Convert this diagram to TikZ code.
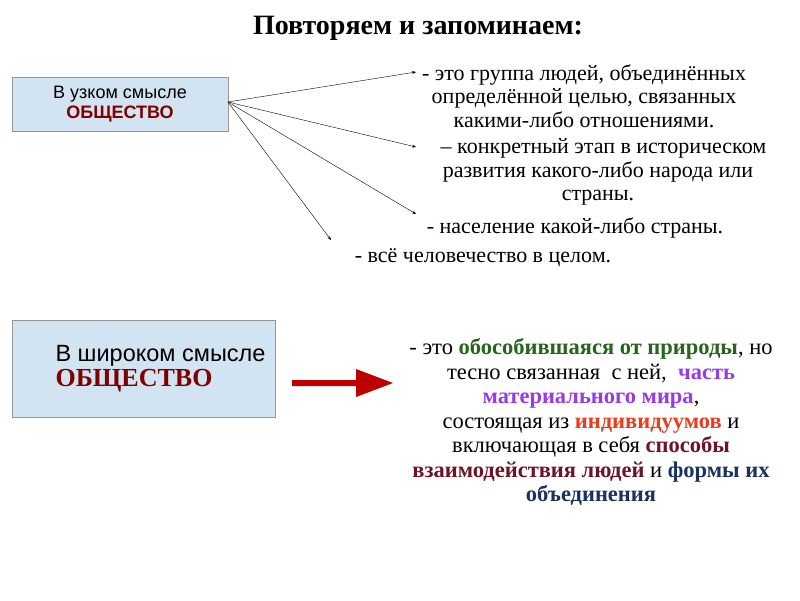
\documentclass[tikz,border=0pt]{standalone}
\usepackage{fontspec}
\setmainfont{Liberation Serif}
\setsansfont{Liberation Sans}
\usetikzlibrary{arrows.meta}
\definecolor{boxblue}{RGB}{210,227,242}
\definecolor{boxline}{RGB}{150,150,150}
\definecolor{darkred}{RGB}{128,0,0}
\definecolor{tgreen}{RGB}{40,100,30}
\definecolor{tviolet}{RGB}{150,60,230}
\definecolor{tred}{RGB}{235,60,30}
\definecolor{tmaroon}{RGB}{110,20,40}
\definecolor{tnavy}{RGB}{25,50,95}
\tikzset{
  sensebox/.style={draw=boxline, fill=boxblue, inner sep=0pt},
  meaning/.style={align=center, font=\fontsize{22}{23.5}\selectfont, inner sep=0pt},
  ray/.style={-{Stealth[length=4pt,width=3pt]}, thin},
}
\begin{document}
\begin{tikzpicture}[x=1pt, y=-1pt]
    \useasboundingbox (0,0) rectangle (800,600);

    \node[font=\fontsize{28}{30}\selectfont\bfseries] (title) at (418,28) {Повторяем и запоминаем:};

    % narrow sense
    \draw[sensebox] (12,77) rectangle (228,131);
    \node[align=center, font=\sffamily\fontsize{18}{20}\selectfont] (narrow) at (120,104)
        {В узком смысле\\\textcolor{darkred}{\bfseries ОБЩЕСТВО}};
    \coordinate (src) at (228,102);

    \node[meaning] (m1) at (584,96) {- это группа людей, объединённых\\определённой целью, связанных\\какими-либо отношениями.};
    \node[meaning] (m2) at (598,172) {\enspace – конкретный этап в историческом\\развития какого-либо народа или\\страны.};
    \node[meaning] (m3) at (575,228) {- население какой-либо страны.};
    \node[meaning] (m4) at (483,258) {- всё человечество в целом.};

    \coordinate (t1) at (416,72);
    \coordinate (t2) at (416,147);
    \coordinate (t3) at (416,214);
    \coordinate (t4) at (331,240);
    \foreach \t in {t1,t2,t3,t4}
        \draw[ray] (src) -- (\t);

    % broad sense
    \draw[sensebox] (12,320) rectangle (275,417);
    \node[anchor=west, align=left, font=\sffamily\fontsize{23.5}{25}\selectfont] (broad) at (52,369)
        {В широком смысле\\\textcolor{darkred}{\bfseries\rmfamily\fontsize{26}{25}\selectfont ОБЩЕСТВО}};

    \fill[red!75!black] (292,380) -- (356,380) -- (356,369) -- (393,383) -- (356,397) -- (356,386) -- (292,386) -- cycle;

    \node[meaning, font=\fontsize{22.5}{24.5}\selectfont] (wide) at (591,422) {%
        - это \textbf{\textcolor{tgreen}{обособившаяся от природы}}, но\\
        тесно связанная\ \ с ней,\ \ \textbf{\textcolor{tviolet}{часть}}\\
        \textbf{\textcolor{tviolet}{материального мира}},\\
        состоящая из \textbf{\textcolor{tred}{индивидуумов}} и\\
        включающая в себя \textbf{\textcolor{tmaroon}{способы}}\\
        \textbf{\textcolor{tmaroon}{взаимодействия людей}} и \textbf{\textcolor{tnavy}{формы их}}\\
        \textbf{\textcolor{tnavy}{объединения}}};
\end{tikzpicture}
\end{document}
